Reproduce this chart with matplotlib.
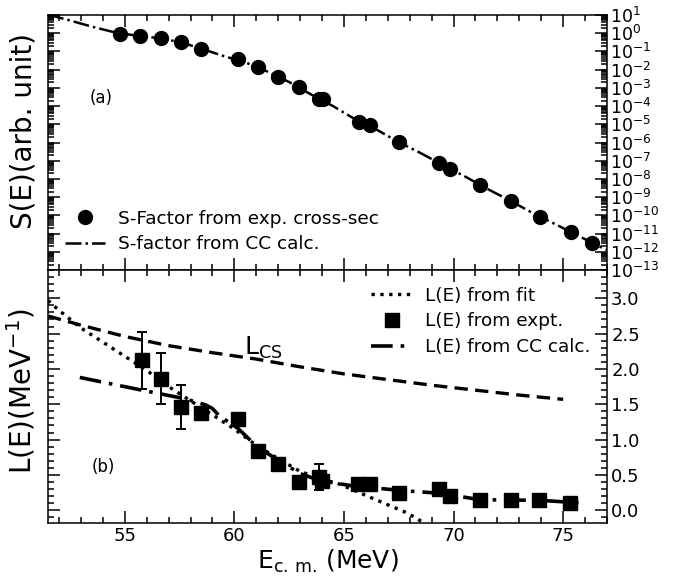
import numpy as np
import matplotlib
matplotlib.use("Agg")
from matplotlib import pyplot
from matplotlib.ticker import FixedLocator, LogLocator, MultipleLocator, NullFormatter

# S-factor points from the measured cross sections
s_energy = [54.77, 55.68, 56.64, 57.56, 58.47, 60.16, 61.07, 61.99, 62.95, 63.86, 64.04,
            65.68, 66.19, 67.51, 69.34, 69.84, 71.21, 72.63, 73.95, 75.37, 76.32]
s_log = [-0.04, -0.15, -0.26, -0.48, -0.87, -1.42, -1.86, -2.41, -2.96, -3.62, -3.62,
         -4.88, -5.04, -5.98, -7.13, -7.46, -8.34, -9.22, -10.10, -10.92, -11.53]

# S-factor from the coupled-channels calculation
s_cc_energy = [51.5, 52.5, 53.5, 54.5, 55.5, 56.5, 57.5, 58.5, 59.5, 60.5, 61.5, 62.5,
               63.5, 64.5, 65.5, 66.5, 67.5, 68.5, 69.5, 70.5, 71.5, 72.5, 73.5, 74.5,
               75.5, 76.5, 77.0]
s_cc_log = [1.02, 0.70, 0.36, 0.06, -0.13, -0.26, -0.48, -0.85, -1.25, -1.60, -2.10, -2.68,
            -3.36, -4.00, -4.72, -5.30, -5.98, -6.58, -7.23, -7.85, -8.52, -9.14, -9.80,
            -10.40, -11.00, -11.62, -11.90]

# logarithmic derivative L(E) from experiment
l_energy = [55.78, 56.64, 57.56, 58.47, 60.16, 61.07, 61.99, 62.95, 63.86, 64.00,
            65.64, 66.19, 67.51, 69.34, 69.84, 71.21, 72.63, 73.90, 75.30]
l_value = [2.12, 1.86, 1.46, 1.37, 1.29, 0.84, 0.65, 0.40, 0.47, 0.41,
           0.37, 0.37, 0.24, 0.30, 0.20, 0.14, 0.14, 0.14, 0.10]
l_error = [0.41, 0.36, 0.31, 0.08, 0.07, 0.06, 0.06, 0.05, 0.18, 0.06,
           0.05, 0.05, 0.05, 0.05, 0.05, 0.04, 0.04, 0.04, 0.04]

# L(E) from the fit
fit_energy = [51.5, 52.0, 53.0, 54.0, 55.0, 56.0, 57.0, 58.0, 59.0, 60.0, 61.0, 62.0,
              63.0, 64.0, 64.8, 66.3, 67.9, 68.6]
fit_value = [2.97, 2.83, 2.58, 2.38, 2.18, 1.98, 1.75, 1.55, 1.35, 1.15, 0.92, 0.73,
             0.55, 0.44, 0.37, 0.17, -0.04, -0.17]

# L(E) from the coupled-channels calculation
lcc_energy = [52.95, 55.78, 57.56, 58.3, 58.7, 59.0, 59.3, 60.16, 61.07, 62.0, 63.0, 63.9,
              65.3, 67.6, 69.4, 71.2, 74.0, 76.0]
lcc_value = [1.88, 1.70, 1.59, 1.53, 1.49, 1.44, 1.34, 1.16, 0.89, 0.71, 0.52, 0.42,
             0.35, 0.28, 0.24, 0.15, 0.14, 0.10]

# L_CS reference curve
lcs_energy = [51.5, 53.0, 55.0, 57.0, 59.0, 61.0, 63.0, 65.0, 67.0, 69.0, 71.0, 73.0, 75.0]
lcs_value = [2.75, 2.62, 2.46, 2.33, 2.23, 2.14, 2.03, 1.93, 1.85, 1.77, 1.70, 1.63, 1.57]

log_ticks = [10.0 ** k for k in range(-13, 2)]


def main() -> None:
    pyplot.rcParams["font.family"] = "DejaVu Sans"
    figure = pyplot.figure(figsize=(6.89, 5.77), dpi=100)
    top = figure.add_axes([0.0697, 0.532, 0.8113, 0.442])
    bottom = figure.add_axes([0.0697, 0.0936, 0.8113, 0.4384], sharex=top)

    # (a) S-factor
    top.set_yscale("log")
    cc_line, = top.plot(s_cc_energy, 10.0 ** np.array(s_cc_log), color="black",
                        linestyle="-.", linewidth=1.8)
    exp_dots, = top.plot(s_energy, 10.0 ** np.array(s_log), "o", color="black", markersize=10)
    top.set_ylim(10.0 ** -13, 10.0 ** 1)
    top.yaxis.set_major_locator(FixedLocator(log_ticks))
    top.yaxis.set_minor_locator(LogLocator(base=10, subs=np.arange(2, 10), numticks=100))
    top.yaxis.set_minor_formatter(NullFormatter())
    top.set_ylabel("S(E)(arb. unit)", fontsize=20)
    top.yaxis.set_label_coords(-0.018, 0.545)
    top.text(53.9, 10.0 ** -3.56, "(a)", fontsize=12, ha="center", va="center")
    top.legend([exp_dots, cc_line], ["S-Factor from exp. cross-sec", "S-factor from CC calc."],
               loc="lower left", frameon=False, fontsize=13.3, handlelength=2.2,
               handletextpad=0.7, borderaxespad=0.5, labelspacing=0.42)

    # (b) L(E)
    bottom.plot(lcs_energy, lcs_value, color="black", linewidth=2.4, dashes=(4, 2.2))
    fit_line, = bottom.plot(fit_energy, fit_value, color="black", linestyle=":", linewidth=2.4)
    bottom.errorbar(l_energy, l_value, yerr=l_error, fmt="none", ecolor="black",
                    elinewidth=1.4, capsize=3.5, capthick=1.4)
    expt_squares, = bottom.plot(l_energy, l_value, "s", color="black", markersize=10)
    lcc_line, = bottom.plot(lcc_energy, lcc_value, color="black", linewidth=2.6,
                            dashes=(6, 2.2, 1, 2.2))
    bottom.set_ylim(-0.18, 3.40)
    bottom.yaxis.set_major_locator(MultipleLocator(0.5))
    bottom.yaxis.set_minor_locator(MultipleLocator(0.1))
    bottom.yaxis.set_major_formatter(pyplot.FuncFormatter(lambda v, _: f"{v:.1f}"))
    bottom.set_ylabel("L(E)(MeV$^{-1}$)", fontsize=20)
    bottom.yaxis.set_label_coords(-0.018, 0.52)
    bottom.set_xlabel("E$_{\\rm c.\\,m.}\\,$(MeV)", fontsize=18, labelpad=2)
    bottom.text(61.3, 2.30, "L$_{\\rm CS}$", fontsize=18, ha="center", va="center")
    bottom.text(54.0, 0.61, "(b)", fontsize=12, ha="center", va="center")
    bottom.legend([fit_line, expt_squares, lcc_line],
                  ["L(E) from fit", "L(E) from expt.", "L(E) from CC calc."],
                  loc="upper right", frameon=False, fontsize=13.3, handlelength=2.2,
                  handletextpad=0.7, borderaxespad=0.5, labelspacing=0.42)

    bottom.set_xlim(51.5, 77.0)
    bottom.xaxis.set_major_locator(MultipleLocator(5))
    bottom.xaxis.set_minor_locator(MultipleLocator(1))

    for axes in (top, bottom):
        axes.tick_params(which="both", direction="in", top=True, bottom=True, left=True,
                         right=True, labelleft=False, labelright=True, width=1.1)
        axes.tick_params(which="major", length=8.5, labelsize=13, pad=3)
        axes.tick_params(which="minor", length=4.5)
        for spine in axes.spines.values():
            spine.set_linewidth(1.1)
    top.tick_params(labelbottom=False, labelsize=12.5, pad=2)

    figure.savefig("out.png", dpi=100)


if __name__ == "__main__":
    main()
